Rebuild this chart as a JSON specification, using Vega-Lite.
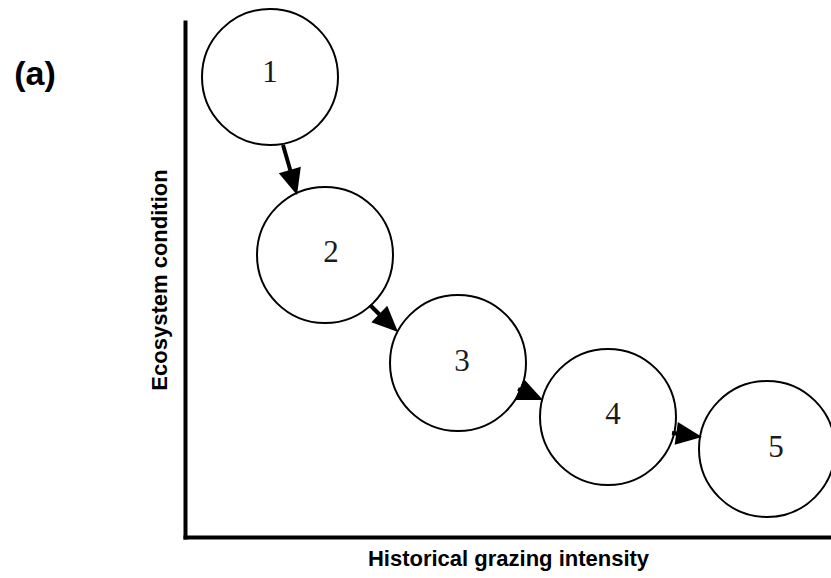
{
  "$schema": "https://vega.github.io/schema/vega-lite/v6.json",
  "width": 646,
  "height": 515,
  "autosize": {"type": "none"},
  "padding": {"left": 185, "top": 22, "right": 0, "bottom": 41},
  "background": "white",
  "config": {
    "view": {"stroke": null},
    "axis": {
      "domainColor": "black",
      "domainWidth": 4,
      "domainCap": "square",
      "ticks": false,
      "labels": false,
      "grid": false,
      "titleFont": "Liberation Sans",
      "titleFontWeight": "bold",
      "titleColor": "black"
    }
  },
  "datasets": {
    "nodes": [
      {"state": "1", "x": 85, "y": 460, "lx": 85, "ly": 464},
      {"state": "2", "x": 140, "y": 282, "lx": 146, "ly": 284},
      {"state": "3", "x": 273, "y": 174, "lx": 277, "ly": 175},
      {"state": "4", "x": 423, "y": 120, "lx": 428, "ly": 122},
      {"state": "5", "x": 582, "y": 88, "lx": 591, "ly": 89}
    ],
    "arrows": [
      {"from": "1", "to": "2", "x": 98, "y": 392, "xe": 109, "ye": 354, "xt": 112, "yt": 342, "dir": 164},
      {"from": "2", "to": "3", "x": 185, "y": 232, "xe": 204, "ye": 213, "xt": 213, "yt": 205, "dir": 134},
      {"from": "3", "to": "4", "x": 333, "y": 148, "xe": 347, "ye": 142, "xt": 358, "yt": 137, "dir": 114},
      {"from": "4", "to": "5", "x": 487, "y": 104, "xe": 505, "ye": 102, "xt": 517, "yt": 100, "dir": 98}
    ],
    "panel": [
      {"label": "(a)", "x": -150, "y": 462}
    ]
  },
  "layer": [
    {
      "data": {"name": "nodes"},
      "mark": {"type": "point", "shape": "circle", "size": 18496, "fill": "white", "fillOpacity": 1, "stroke": "black", "strokeWidth": 2, "opacity": 1},
      "encoding": {
        "x": {"field": "x", "type": "quantitative", "scale": {"domain": [0, 646], "nice": false, "zero": false},
              "axis": {"title": "Historical grazing intensity", "titleFontSize": 22, "titlePadding": 11, "orient": "bottom"}},
        "y": {"field": "y", "type": "quantitative", "scale": {"domain": [0, 515], "nice": false, "zero": false},
              "axis": {"title": "Ecosystem condition", "titleFontSize": 22, "titlePadding": 14, "orient": "left"}}
      }
    },
    {
      "data": {"name": "nodes"},
      "mark": {"type": "text", "font": "Liberation Serif", "fontSize": 31, "color": "#1a1a1a", "baseline": "middle", "align": "center"},
      "encoding": {
        "x": {"field": "lx", "type": "quantitative"},
        "y": {"field": "ly", "type": "quantitative"},
        "text": {"field": "state"}
      }
    },
    {
      "data": {"name": "arrows"},
      "mark": {"type": "rule", "color": "black", "strokeWidth": 4},
      "encoding": {
        "x": {"field": "x", "type": "quantitative"},
        "y": {"field": "y", "type": "quantitative"},
        "x2": {"field": "xe"},
        "y2": {"field": "ye"}
      }
    },
    {
      "data": {"name": "arrows"},
      "mark": {"type": "point", "shape": "M0,0L-0.44,1L0.44,1Z", "size": 2704, "filled": true, "color": "black", "opacity": 1, "strokeWidth": 0},
      "encoding": {
        "x": {"field": "xt", "type": "quantitative"},
        "y": {"field": "yt", "type": "quantitative"},
        "angle": {"field": "dir", "type": "quantitative", "scale": null}
      }
    },
    {
      "data": {"name": "panel"},
      "mark": {"type": "text", "font": "Liberation Sans", "fontWeight": "bold", "fontSize": 34, "color": "black", "baseline": "middle", "align": "center", "clip": false},
      "encoding": {
        "x": {"field": "x", "type": "quantitative"},
        "y": {"field": "y", "type": "quantitative"},
        "text": {"field": "label"}
      }
    }
  ]
}
